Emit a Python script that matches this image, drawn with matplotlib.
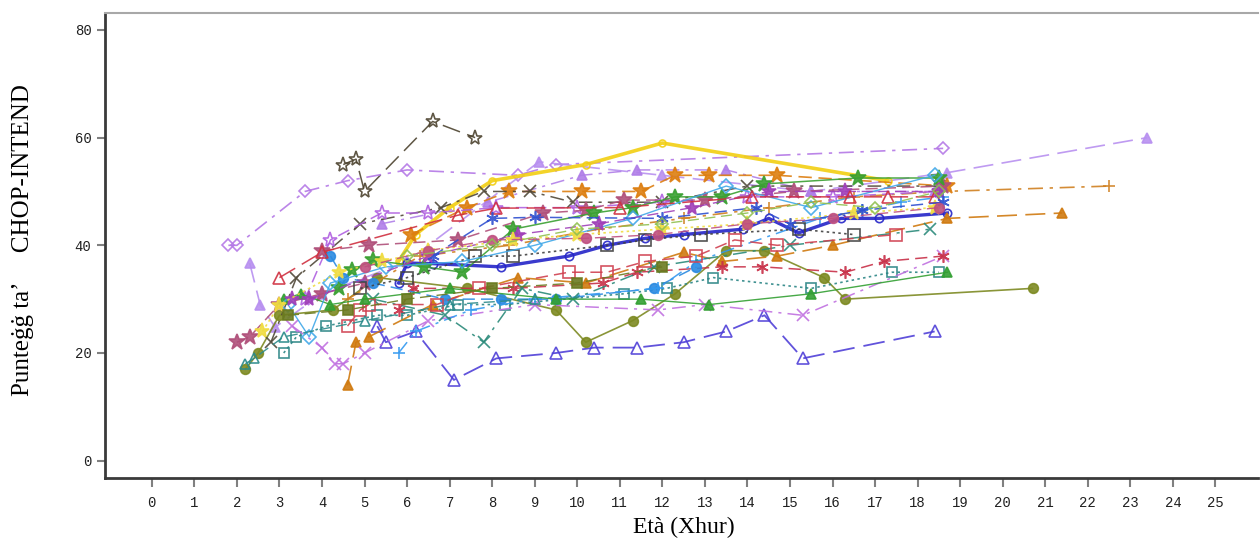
import matplotlib
matplotlib.use('Agg')
import matplotlib.pyplot as plt

# age in months / CHOP-INTEND score, one pair per patient
s01_age = [4.5, 4.8, 5.0, 6.6, 7.6]
s01_chop = [55, 56, 50, 63, 60]
s02_age = [1.8, 2.0, 3.6, 4.6, 6.0, 8.6, 9.5, 18.6]
s02_chop = [40, 40, 50, 52, 54, 53, 55, 58]
s03_age = [2.3, 2.55, 2.9, 4.0, 6.0, 9.1, 12.0, 15.5, 18.7, 23.4]
s03_chop = [36.7, 28.9, 24.8, 31, 37, 55.5, 53, 50, 53.5, 60]
s04_age = [5.4, 7.9, 10.1, 11.4, 13.5, 15.5, 18.4]
s04_chop = [44, 48, 53, 54, 54, 50, 50]
s05_age = [5.8, 6.2, 7.0, 8.0, 10.2, 12.0, 17.3]
s05_chop = [37, 42, 47, 52, 55, 59, 52]
s06_age = [5.8, 6.0, 6.6, 8.2, 9.8, 10.7, 11.6, 12.5, 13.9, 14.5, 15.2, 16.2, 17.1, 18.7]
s06_chop = [33, 36.7, 36.6, 36, 38, 40, 41.3, 42, 43, 45, 42.3, 45, 45, 46]
s07_age = [5.3, 5.5, 6.2, 7.1, 8.1, 9.5, 10.4, 11.4, 12.5, 13.5, 14.4, 15.3, 18.4]
s07_chop = [25, 22, 24, 15, 19, 20, 21, 21, 22, 24, 27, 19, 24]
s08_age = [2.2, 2.5, 3.0, 4.25, 5.3, 7.4, 9.5, 10.2, 11.3, 12.3, 13.5, 14.4, 15.8, 16.3, 20.7]
s08_chop = [17, 20, 27, 28, 34, 32, 28, 22, 26, 31, 39, 39, 34, 30, 32]
s09_age = [3.1, 3.4, 4.1, 5.3, 6.0, 7.2, 8.3, 11.1, 12.1, 13.2, 15.5, 17.4, 18.5]
s09_chop = [20, 23, 25, 27, 27, 29, 29, 31, 32, 34, 32, 35, 35]
s10_age = [4.6, 6.3, 8.4, 10.5, 12.5, 14.5, 16.5, 18.6, 22.5]
s10_chop = [30, 38, 40, 43, 45, 47, 49, 50, 51]
s11_age = [4.6, 4.8, 5.1, 6.6, 8.6, 10.2, 12.5, 13.4, 14.7, 16.0, 18.7, 21.4]
s11_chop = [14, 22, 23, 29, 34, 33, 38.7, 37, 38, 40, 45, 46]
s12_age = [6.1, 7.4, 8.4, 10.1, 11.5, 12.3, 13.1, 14.7, 18.7]
s12_chop = [42, 47, 50, 50, 50, 53, 53, 53, 51]
s13_age = [2.8, 3.4, 4.9, 6.8, 7.8, 8.9, 9.9, 12.0, 14.0, 18.5]
s13_chop = [22, 34, 44, 47, 50, 50, 48, 48, 51, 51]
s14_age = [3.6, 4.2, 5.4, 6.5, 8.1, 10.0, 12.0, 14.0, 16.0, 18.5]
s14_chop = [30, 41, 46, 46, 47, 47, 48, 49, 49, 50]
s15_age = [3.3, 4.0, 4.3, 4.5, 5.0, 6.5, 9.0, 11.9, 13.0, 15.3, 18.6]
s15_chop = [25, 21, 18, 18, 20, 26, 29, 28, 29, 27, 38]
s16_age = [5.8, 6.15, 8.5, 10.6, 11.4, 13.4, 14.35, 16.3, 17.2, 18.6]
s16_chop = [28, 32, 32, 33, 35, 36, 36, 35, 37, 38]
s17_age = [2.0, 2.3, 3.0, 4.0, 5.0]
s17_chop = [22, 23, 29, 31, 33]
s18_age = [4.0, 5.1, 7.2, 9.2, 10.2, 11.1, 13.0, 15.1, 18.6]
s18_chop = [39, 40, 41, 46, 46.5, 48.4, 48.4, 50, 51]
s19_age = [4.4, 4.7, 5.2, 6.4, 7.3, 8.5, 10.4, 11.3, 12.3, 13.4, 14.4, 16.6, 18.5]
s19_chop = [32, 35.4, 37.2, 36, 35, 43, 46, 47, 49, 49, 51.4, 52.5, 52.5]
s20_age = [4.2, 4.5, 5.2, 6.9, 8.2, 9.5, 11.8, 12.8]
s20_chop = [38, 34, 33, 30, 30, 30, 32, 36]
s21_age = [5.8, 6.2, 7.5, 9.0, 11.9, 12.8, 15.7, 16.7, 17.6, 18.6]
s21_chop = [20, 24, 28, 30, 32, 37, 45, 46.5, 48, 49]
s22_age = [5.2, 6.9, 7.8, 8.7, 9.9, 11.8, 15.0, 18.3]
s22_chop = [30, 27, 22, 32, 30, 36, 40, 43]
s23_age = [4.9, 6.0, 7.6, 8.5, 10.7, 11.6, 12.9, 15.2, 16.5]
s23_chop = [32, 34, 38, 38, 40, 41, 42, 43, 42]
s24_age = [4.6, 4.9, 5.1, 6.7, 7.7, 9.8, 10.7, 11.6, 12.8, 13.7, 14.7, 17.5]
s24_chop = [25, 28, 29, 29, 32, 35, 35, 37, 38, 41, 40, 42]
s25_age = [3.1, 3.5, 4.2, 5.0, 7.0, 9.5, 11.5, 13.1, 15.5, 18.7]
s25_chop = [30, 31, 29, 30, 32, 30, 30, 29, 31, 35]
s26_age = [3.2, 3.7, 4.2, 5.5, 7.3, 9.0, 11.3, 13.5, 15.5, 18.4]
s26_chop = [29, 23, 33, 36, 37, 40, 45, 51, 47, 53]
s27_age = [3.3, 3.7, 6.5, 8.6, 10.5, 12.7, 14.5, 16.3, 18.5]
s27_chop = [30, 30, 38, 42, 44, 47, 50, 50, 50]
s28_age = [2.6, 3.0, 4.4, 5.4, 6.5, 8.5, 10.0, 12.0, 14.0, 16.5, 18.4]
s28_chop = [24, 29, 35, 37, 39, 41, 42, 43, 44, 46, 47]
s29_age = [3.0, 4.0, 7.2, 8.1, 11.0, 14.1, 16.4, 17.3, 18.4]
s29_chop = [34, 38.7, 45.6, 46.9, 47, 49, 49, 49, 49]
s30_age = [6.6, 8.0, 9.0, 12.0, 14.2, 15.0, 16.7, 18.6]
s30_chop = [38, 45, 45.2, 45, 47, 44, 46.5, 48]
s31_age = [5.0, 6.5, 8.0, 10.2, 11.9, 14.0, 16.0, 18.5]
s31_chop = [36, 39, 41, 41.3, 42, 44, 45, 47]
s32_age = [2.2, 2.4, 3.1, 5.0, 7.0, 9.0]
s32_chop = [18, 19, 23, 26, 29, 30]
s33_age = [6.0, 8.0, 10.0, 12.0, 14.0, 15.5, 17.0, 18.5]
s33_chop = [38, 40, 43, 44, 46, 48, 47, 50]
s34_age = [3.2, 4.6, 6.0, 8.0, 10.0, 12.0]
s34_chop = [27, 28, 30, 32, 33, 36]

ages = [s01_age, s02_age, s03_age, s04_age, s05_age, s06_age, s07_age, s08_age,
        s09_age, s10_age, s11_age, s12_age, s13_age, s14_age, s15_age, s16_age,
        s17_age, s18_age, s19_age, s20_age, s21_age, s22_age, s23_age, s24_age,
        s25_age, s26_age, s27_age, s28_age, s29_age, s30_age, s31_age, s32_age,
        s33_age, s34_age]
chops = [s01_chop, s02_chop, s03_chop, s04_chop, s05_chop, s06_chop, s07_chop, s08_chop,
         s09_chop, s10_chop, s11_chop, s12_chop, s13_chop, s14_chop, s15_chop, s16_chop,
         s17_chop, s18_chop, s19_chop, s20_chop, s21_chop, s22_chop, s23_chop, s24_chop,
         s25_chop, s26_chop, s27_chop, s28_chop, s29_chop, s30_chop, s31_chop, s32_chop,
         s33_chop, s34_chop]

DASH = (0, (8, 4))
LDASH = (0, (12, 5))
DDOT = (0, (9, 4, 2, 4))
DOT = (0, (1.5, 2))
SOLID = '-'
AST = (6, 2, 0)

# color, linestyle, marker, filled, markersize, linewidth
styles = [
    ('#4d4430', LDASH, '*', False, 11, 1.1),
    ('#b478e6', DDOT, 'D', False, 6, 1.2),
    ('#b890f0', LDASH, '^', True, 7, 1.2),
    ('#b07ee8', DDOT, '^', True, 7, 1.1),
    ('#f2cf12', SOLID, 'o', False, 5, 2.6),
    ('#2424c8', SOLID, 'o', False, 6, 2.4),
    ('#5040d8', LDASH, '^', False, 8, 1.3),
    ('#7d8a22', SOLID, 'o', True, 7, 1.2),
    ('#2a8585', DOT, 's', False, 7, 1.2),
    ('#d08020', DDOT, '+', True, 9, 1.2),
    ('#d07a10', LDASH, '^', True, 7, 1.2),
    ('#dd7e10', DASH, '*', True, 12, 1.2),
    ('#504838', DDOT, 'x', True, 8, 1.1),
    ('#b060e0', DASH, '*', False, 11, 1.1),
    ('#c070e0', DDOT, 'x', True, 8, 1.1),
    ('#c83048', DASH, AST, True, 9, 1.1),
    ('#b0507a', DASH, '*', True, 12, 1.1),
    ('#b0507a', DASH, '*', True, 12, 1.1),
    ('#3aa032', SOLID, '*', True, 12, 1.1),
    ('#2b8ae0', DASH, 'o', True, 7, 1.1),
    ('#3399f0', DDOT, '+', True, 9, 1.1),
    ('#2a8a7a', DDOT, 'x', True, 8, 1.1),
    ('#404040', DOT, 's', False, 8, 1.2),
    ('#d04050', DASH, 's', False, 8, 1.1),
    ('#33a033', SOLID, '^', True, 7, 1.0),
    ('#40a8e8', SOLID, 'D', False, 7, 1.0),
    ('#a040b8', DASH, '*', True, 11, 1.0),
    ('#f0dc40', DOT, '*', True, 11, 1.2),
    ('#d03040', LDASH, '^', False, 8, 1.1),
    ('#3050d0', DASH, AST, True, 9, 1.1),
    ('#c05080', DASH, 'o', True, 7, 1.0),
    ('#2a8a8a', DASH, '^', False, 7, 1.0),
    ('#90c050', DASH, 'D', False, 6, 1.0),
    ('#6a7a20', DASH, 's', True, 7, 1.0),
]

fig = plt.figure(figsize=(12.6, 5.41), dpi=100)
ax = fig.add_axes([105 / 1260, 1 - 477.7 / 541, 1153 / 1260, 465 / 541])

for a, c, st in zip(ages, chops, styles):
    col, ls, mk, filled, ms, lw = st
    ax.plot(a, c, color=col, linestyle=ls, linewidth=lw, marker=mk,
            markersize=ms, markerfacecolor=col if filled else 'none',
            markeredgecolor=col, markeredgewidth=1.2, alpha=0.9)

ax.set_xlim(-1.1, 26.0)
ax.set_ylim(-3.16, 83.2)
ax.set_xticks(range(0, 26))
ax.set_yticks([0, 20, 40, 60, 80])

ax.spines['right'].set_visible(False)
ax.spines['top'].set_color('#a8a8a8')
ax.spines['top'].set_linewidth(1.5)
for s in ['left', 'bottom']:
    ax.spines[s].set_color('#3a3a3a')
    ax.spines[s].set_linewidth(2)

ax.tick_params(axis='x', direction='out', length=6.5, width=1.5, color='#808080',
               pad=7, labelsize=10)
ax.tick_params(axis='y', direction='out', length=5.8, width=1.5, color='#808080',
               pad=4, labelsize=10)
for lab in ax.get_xticklabels() + ax.get_yticklabels():
    lab.set_fontfamily('Liberation Mono')
    lab.set_color('#202020')

ax.set_xlabel('Età (Xhur)', fontsize=17, family='Liberation Serif', va='center')
ax.xaxis.set_label_coords(0.5017, -0.106)
ax.set_ylabel('Punteġġ ta’     CHOP-INTEND', fontsize=18, family='Liberation Serif',
              va='center')
ax.yaxis.set_label_coords(-0.071, 0.512)

fig.savefig('out.png', dpi=100)
